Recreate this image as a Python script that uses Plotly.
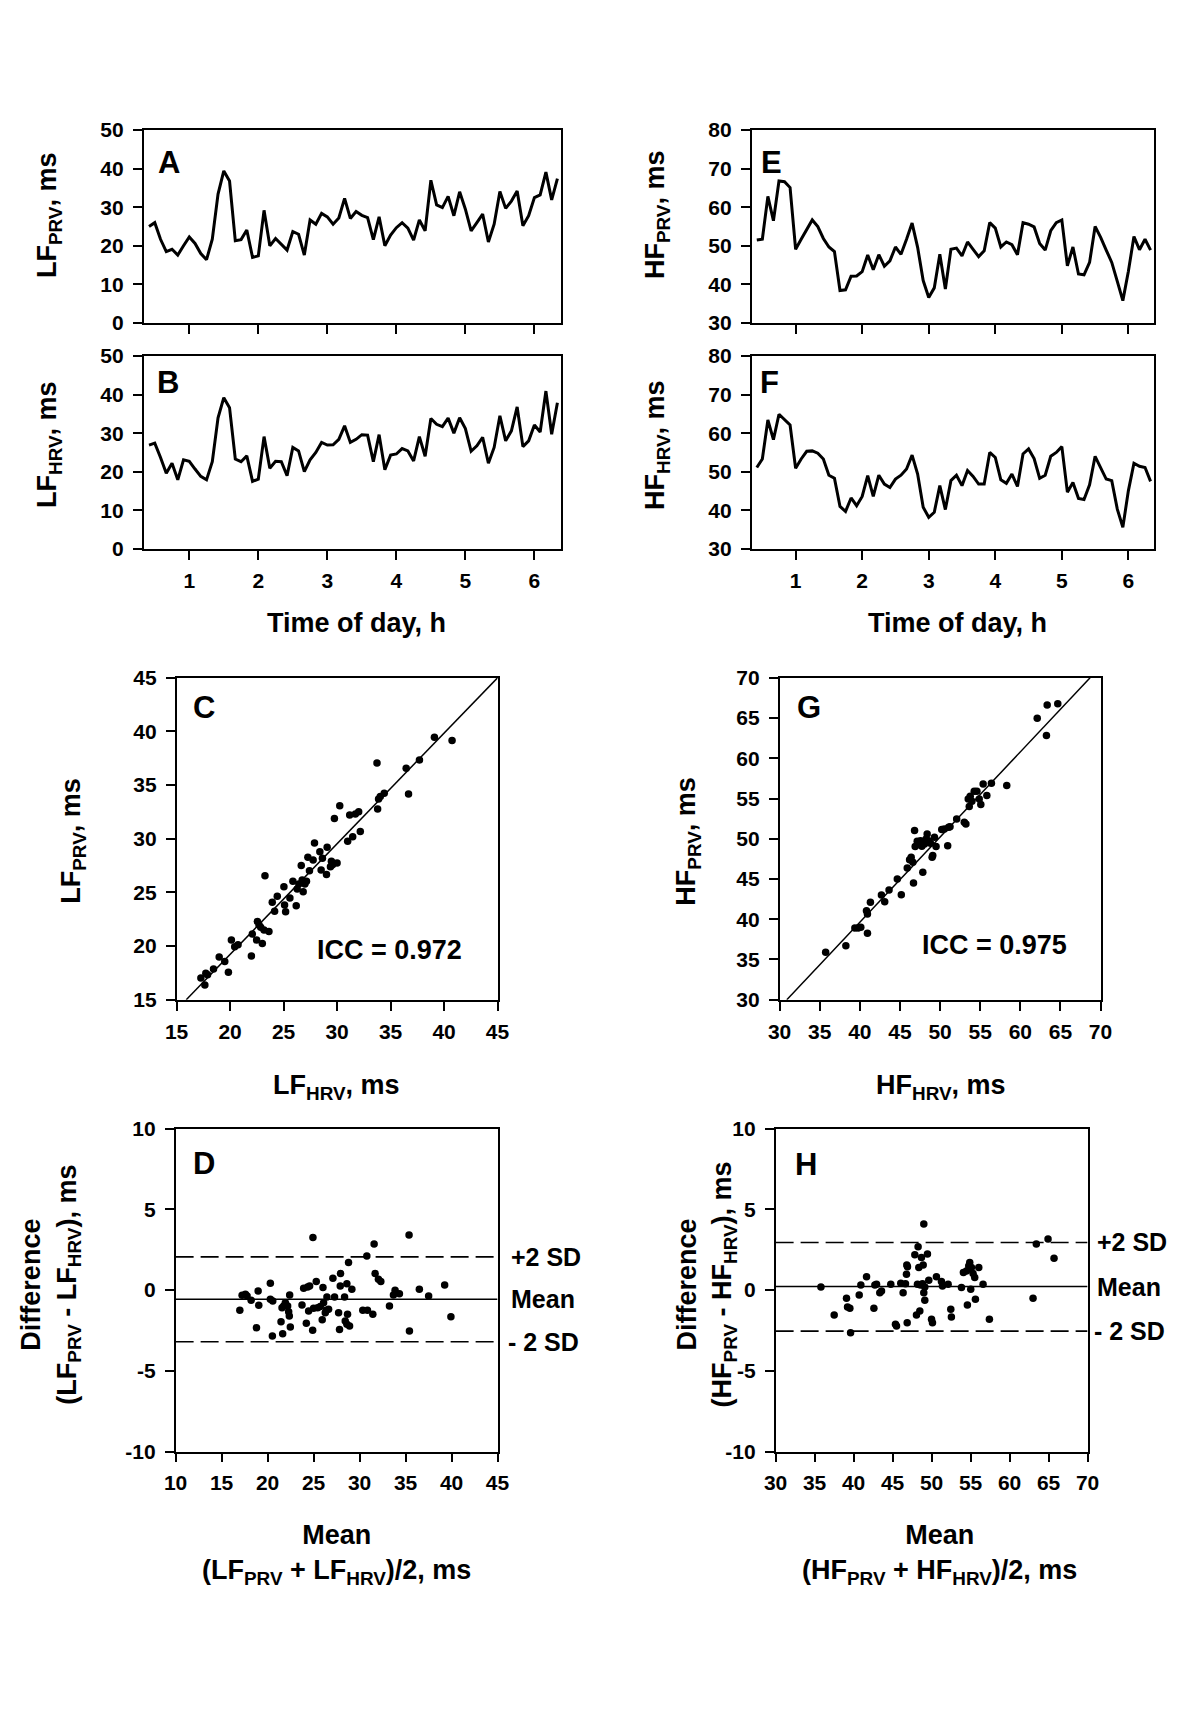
import plotly.graph_objects as go

W, H = 1200, 1734          # browser window
PAD = 8                    # default page body margin
FW, FH = W - 2 * PAD, H - 2 * PAD   # figure size that fits the window
FONT = "Liberation Sans, Arial, Helvetica, sans-serif"
# observed page -> photo mapping (photo = O + S * page), compensated below
SX, OX = 0.983, 11.0
SY, OY = 0.987, 11.0

# ---------------- data ----------------
time_min = list(range(25, 385, 5))          # sampling every 5 min
time_h = [m / 60 for m in time_min]

lf_prv = [25.0, 26.0, 21.7, 18.5, 19.1, 17.6, 20.0, 22.3, 20.6, 18.0,
          16.4, 21.7, 33.4, 39.4, 36.8, 21.3, 21.6, 24.1, 17.0, 17.4,
          29.2, 20.0, 21.9, 20.4, 18.9, 23.7, 23.0, 17.6, 26.7, 25.6,
          28.4, 27.5, 25.6, 27.2, 32.3, 27.1, 28.9, 27.9, 27.3, 21.6,
          27.5, 20.0, 22.8, 24.7, 26.0, 24.6, 21.5, 26.7, 23.9, 37.0,
          30.6, 29.9, 32.8, 27.8, 34.0, 29.5, 23.9, 26.0, 28.2, 21.0,
          25.6, 34.1, 29.7, 31.6, 34.2, 25.2, 27.8, 32.5, 33.2, 39.1,
          31.9, 37.4]
lf_hrv = [26.9, 27.4, 23.7, 19.6, 22.2, 17.9, 23.1, 22.7, 20.7, 18.8,
          17.9, 22.6, 34.0, 39.2, 36.6, 23.3, 22.6, 24.1, 17.5, 18.1,
          29.1, 20.9, 22.7, 22.6, 19.0, 26.3, 25.4, 20.0, 23.1, 25.0,
          27.6, 26.9, 27.0, 28.4, 31.9, 27.6, 28.4, 29.6, 29.5, 22.6,
          29.6, 20.5, 24.3, 24.6, 26.0, 25.4, 22.8, 29.1, 24.0, 33.8,
          32.3, 31.7, 33.9, 30.0, 34.0, 31.2, 25.3, 26.7, 28.9, 22.2,
          26.3, 34.5, 28.0, 30.6, 36.8, 26.5, 28.0, 32.1, 30.3, 40.9,
          29.7, 37.9]
hf_prv = [51.5, 51.7, 62.8, 56.5, 66.8, 66.6, 65.1, 49.1, 51.7, 54.3,
          56.7, 55.0, 51.9, 49.7, 48.5, 38.4, 38.6, 42.1, 42.2, 43.3,
          47.6, 43.8, 47.7, 44.7, 46.1, 49.7, 47.8, 51.7, 55.9, 49.6,
          41.0, 36.6, 39.1, 47.8, 38.8, 49.1, 49.4, 47.4, 51.0, 49.1,
          47.2, 48.7, 56.0, 54.6, 49.7, 51.0, 50.3, 47.7, 56.0, 55.6,
          54.9, 50.6, 48.9, 53.9, 56.0, 56.7, 44.8, 49.7, 42.7, 42.5,
          45.7, 55.0, 52.2, 48.9, 45.7, 40.8, 35.8, 43.4, 52.4, 49.0,
          51.7, 48.9]
hf_hrv = [51.1, 53.3, 63.4, 58.3, 64.9, 63.6, 62.1, 50.9, 53.3, 55.3,
          55.4, 54.8, 53.3, 49.1, 48.3, 41.0, 39.7, 43.2, 41.2, 43.6,
          49.0, 43.6, 49.1, 46.8, 45.9, 48.1, 49.1, 50.7, 54.3, 49.4,
          40.8, 38.2, 39.5, 46.4, 40.2, 47.7, 49.1, 46.4, 50.3, 48.8,
          46.8, 46.8, 55.0, 53.7, 47.9, 47.0, 49.4, 46.2, 54.6, 55.9,
          53.4, 48.3, 49.1, 54.0, 55.0, 56.5, 44.7, 47.2, 43.1, 42.8,
          46.6, 54.0, 51.1, 48.1, 47.7, 40.3, 35.6, 45.1, 52.2, 51.4,
          51.1, 47.5]

# Panel C: LF_HRV (x) vs LF_PRV (y)
c_x = [17.27, 17.64, 17.73, 17.89, 18.45, 18.98, 19.50, 19.84, 20.12, 20.43,
       20.74, 21.99, 22.08, 22.48, 22.55, 22.70, 22.86, 23.01, 23.17, 23.26,
       23.63, 23.94, 24.16, 24.41, 25.03, 25.09, 25.19, 25.59, 25.87, 26.18,
       26.27, 26.43, 26.65, 26.74, 26.83, 26.99, 27.14, 27.27, 27.42, 27.76,
       27.89, 28.39, 28.51, 28.63, 29.01, 29.07, 29.38, 29.47, 29.57, 29.75,
       30.00, 30.25, 30.99, 31.18, 31.46, 31.71, 32.02, 32.17, 33.73, 33.79,
       33.88, 34.04, 34.41, 36.46, 36.68, 37.70, 39.10, 40.75]
c_y = [17.02, 16.37, 17.46, 17.33, 17.86, 18.98, 18.57, 17.55, 20.56, 19.94,
       20.13, 19.08, 21.12, 20.56, 22.30, 21.99, 21.75, 20.25, 21.50, 26.56,
       21.37, 24.08, 23.24, 24.64, 25.54, 23.83, 23.21, 24.48, 26.04, 23.77,
       25.32, 25.79, 27.50, 26.16, 25.07, 25.79, 26.04, 28.27, 27.03, 28.02,
       29.61, 28.80, 27.09, 28.18, 26.66, 29.21, 27.40, 27.90, 27.59, 31.88,
       27.75, 33.09, 29.77, 32.22, 30.20, 32.31, 32.53, 30.67, 37.07, 32.78,
       33.71, 33.93, 34.24, 36.57, 34.18, 37.35, 39.46, 39.15]
c_fit_x = [15.9, 45.0]
c_fit_y = [15.0, 45.0]

# Panel G: HF_HRV (x) vs HF_PRV (y)
g_x = [35.74, 38.26, 39.38, 39.79, 40.12, 40.95, 40.83, 40.95, 41.32, 42.69,
       43.10, 43.64, 44.67, 45.17, 45.91, 46.20, 46.40, 46.61, 46.69, 46.82,
       46.90, 47.15, 47.36, 47.56, 47.73, 47.85, 48.06, 48.26, 48.39, 48.55,
       48.80, 49.01, 49.09, 49.30, 49.50, 50.21, 50.54, 50.95, 51.07, 51.24,
       52.07, 53.02, 53.22, 53.51, 53.64, 53.76, 53.97, 54.26, 54.59, 54.88,
       55.08, 55.37, 55.83, 56.40, 58.31, 62.11, 63.26, 63.35, 64.67]
g_y = [35.89, 36.72, 38.91, 38.91, 39.00, 38.25, 41.07, 40.65, 42.10, 43.02,
       42.19, 43.64, 45.01, 43.06, 46.37, 47.41, 47.70, 47.08, 44.51, 51.02,
       49.03, 49.69, 49.36, 49.77, 49.07, 45.83, 49.36, 49.98, 50.60, 49.77,
       49.44, 47.70, 47.91, 50.19, 49.03, 51.14, 51.22, 49.15, 51.43, 51.51,
       52.47, 52.05, 51.84, 54.95, 54.00, 55.28, 54.66, 55.91, 55.91, 54.95,
       54.25, 56.82, 55.37, 56.90, 56.61, 64.98, 62.83, 66.64, 66.77]
g_fit_x = [30.9, 68.7]
g_fit_y = [30.0, 70.0]

# Panel D: Bland-Altman LF
d_mean = [16.98, 17.23, 17.59, 17.77, 18.21, 18.79, 18.97, 19.04, 20.30, 20.30,
          20.52, 20.56, 21.46, 21.57, 21.64, 21.75, 21.93, 22.18, 22.29, 22.36,
          22.40, 22.47, 23.74, 23.92, 24.21, 24.35, 24.46, 24.57, 24.90, 24.93,
          25.00, 25.29, 25.44, 25.73, 25.94, 26.02, 26.09, 26.27, 26.38, 26.45,
          26.63, 27.10, 27.28, 27.72, 27.82, 27.90, 27.93, 28.37, 28.44, 28.62,
          28.62, 28.69, 28.80, 28.91, 29.16, 30.35, 30.79, 30.86, 31.44, 31.58,
          31.69, 32.05, 32.31, 33.25, 33.68, 33.86, 34.33, 35.38, 35.42, 36.50,
          37.51, 39.25, 39.93]
d_diff = [-1.25, -0.32, -0.26, -0.36, -0.63, -2.33, -0.05, -0.94, 0.42, -0.57,
          -2.85, -0.67, -1.96, -1.09, -2.70, -0.98, -0.78, -0.98, -1.34, -1.61,
          -0.30, -2.29, -0.92, 0.11, -2.06, 0.20, -1.30, 0.26, -2.48, 3.26,
          -1.13, 0.53, -1.09, -1.01, -1.83, 0.16, -0.78, -1.40, -1.25, -0.42,
          -1.19, 0.74, -0.42, -1.40, -2.44, 0.26, 1.03, -0.42, -1.92, -2.12,
          0.40, -1.50, 1.71, -2.23, 0.05, -1.25, 2.12, -1.25, -1.50, 2.85,
          1.03, 0.67, 0.53, -0.98, -0.30, -0.01, -0.22, 3.41, -2.54, 0.05,
          -0.36, 0.32, -1.65]
d_limits = [2.06, -0.57, -3.20]        # +2 SD, mean, -2 SD
d_xspan = [10, 45]

# Panel H: Bland-Altman HF
h_mean = [35.81, 37.51, 39.09, 39.22, 39.52, 39.61, 40.72, 40.93, 41.66, 42.60,
          42.73, 42.94, 43.36, 43.58, 44.77, 45.37, 45.50, 46.05, 46.35, 46.65,
          46.78, 46.82, 46.87, 46.91, 47.85, 48.06, 48.19, 48.27, 48.36, 48.49,
          48.57, 48.70, 48.83, 48.92, 49.00, 49.00, 49.13, 49.13, 49.47, 49.64,
          49.99, 50.11, 50.62, 51.26, 51.39, 52.12, 52.46, 52.54, 53.83, 54.08,
          54.47, 54.59, 54.76, 54.89, 55.02, 55.11, 55.32, 55.53, 55.62, 56.05,
          56.60, 57.41, 63.01, 63.43, 64.93, 65.70]
h_diff = [0.20, -1.54, -0.51, -1.05, -1.13, -2.64, -0.30, 0.32, 0.82, -1.13,
          0.32, 0.36, -0.16, -0.05, 0.36, -2.12, -2.23, 0.42, -0.16, 0.40,
          0.98, 1.56, -2.02, 1.44, 2.19, -1.54, 0.36, 2.68, 1.40, -1.30,
          0.32, 2.02, 0.40, 1.56, -0.16, 4.09, -0.63, 0.20, 2.23, 0.61,
          -1.81, -2.02, 0.82, 0.53, 0.26, 0.36, -1.19, -1.67, 0.16, 1.09,
          1.19, -0.92, 1.50, 1.71, 0.05, 1.40, 1.03, 0.78, -0.57, 1.40,
          0.36, -1.81, -0.51, 2.85, 3.16, 1.98]
h_limits = [2.95, 0.22, -2.54]
h_xspan = [30, 70]

limit_labels = ["+2 SD", "Mean", "- 2 SD"]
diff_ticks = [-10, -5, 0, 5, 10]
diff_ticktext = ["-10", "-5", "0", "5", "10"]

# ---------------- layout helpers ----------------
def fx(px):
    page = (px - OX) / SX
    return (page - PAD) / FW

def fy(py):
    page = (py - OY) / SY
    return 1 - (page - PAD) / FH

TICKFONT = dict(family=FONT, size=21, color="black", weight="bold")

def axis_style(**kw):
    d = dict(showline=True, linecolor="black", linewidth=1.6, mirror=True,
             ticks="outside", ticklen=9, tickwidth=1.6, tickcolor="black",
             showgrid=False, zeroline=False, tickfont=TICKFONT,
             fixedrange=True)
    d.update(kw)
    return d

# panel boxes in target pixels: left, right, top, bottom
boxes = {
    "A": (143, 562, 129, 322),
    "B": (143, 562, 355, 548),
    "E": (753, 1157, 129, 322),
    "F": (753, 1157, 355, 548),
    "C": (176, 498, 677, 999),
    "G": (781, 1103, 677, 999),
    "D": (175, 498, 1128, 1451),
    "H": (777, 1090, 1128, 1451),
}
order = ["A", "B", "E", "F", "C", "G", "D", "H"]
axis_id = {k: i + 1 for i, k in enumerate(order)}

fig = go.Figure()
layout = dict(width=FW, height=FH, autosize=False,
              margin=dict(l=0, r=0, t=0, b=0, pad=0),
              paper_bgcolor="white", plot_bgcolor="white", showlegend=False,
              font=dict(family=FONT, color="black", size=21, weight="bold"))

def ax_names(k):
    i = axis_id[k]
    s = "" if i == 1 else str(i)
    return "x" + s, "y" + s, "xaxis" + s, "yaxis" + s

time_range = [0.34, 6.39]
hours = [1, 2, 3, 4, 5, 6]
axis_cfg = {
    "A": (dict(range=time_range, tickvals=hours, showticklabels=False),
          dict(range=[0, 50], dtick=10)),
    "B": (dict(range=time_range, tickvals=hours, ticklabelstandoff=3),
          dict(range=[0, 50], dtick=10)),
    "E": (dict(range=time_range, tickvals=hours, showticklabels=False),
          dict(range=[30, 80], dtick=10)),
    "F": (dict(range=time_range, tickvals=hours, ticklabelstandoff=3),
          dict(range=[30, 80], dtick=10)),
    "C": (dict(range=[15, 45], dtick=5, ticklabelstandoff=3),
          dict(range=[15, 45], dtick=5)),
    "G": (dict(range=[30, 70], dtick=5, ticklabelstandoff=3),
          dict(range=[30, 70], dtick=5)),
    "D": (dict(range=[10, 45], dtick=5, ticklabelstandoff=2),
          dict(range=[-10, 10], tickvals=diff_ticks, ticktext=diff_ticktext)),
    "H": (dict(range=[30, 70], dtick=5, ticklabelstandoff=2),
          dict(range=[-10, 10], tickvals=diff_ticks, ticktext=diff_ticktext)),
}

for k in order:
    xr, yr, xa, ya = ax_names(k)
    l, r, t, b = boxes[k]
    xc, yc = axis_cfg[k]
    layout[xa] = axis_style(domain=[fx(l), fx(r)], anchor=yr, **xc)
    layout[ya] = axis_style(domain=[fy(b), fy(t)], anchor=xr,
                            ticklabelstandoff=5, **yc)

def add_line(k, x, y, width=3.0, dash=None):
    xr, yr, _, _ = ax_names(k)
    fig.add_trace(go.Scatter(x=x, y=y, xaxis=xr, yaxis=yr, mode="lines",
                             line=dict(color="black", width=width, dash=dash),
                             hoverinfo="skip"))

def add_dots(k, x, y):
    xr, yr, _, _ = ax_names(k)
    fig.add_trace(go.Scatter(x=x, y=y, xaxis=xr, yaxis=yr, mode="markers",
                             marker=dict(color="black", size=7.5, line=dict(width=0))))

# time series
add_line("A", time_h, lf_prv)
add_line("B", time_h, lf_hrv)
add_line("E", time_h, hf_prv)
add_line("F", time_h, hf_hrv)

# agreement scatter
add_line("C", c_fit_x, c_fit_y, width=1.5)
add_dots("C", c_x, c_y)
add_line("G", g_fit_x, g_fit_y, width=1.5)
add_dots("G", g_x, g_y)

# Bland-Altman
for k, lims, span, mx, dy in (("D", d_limits, d_xspan, d_mean, d_diff),
                              ("H", h_limits, h_xspan, h_mean, h_diff)):
    add_line(k, span, [lims[0]] * 2, width=1.6, dash="18px,7px")
    add_line(k, span, [lims[1]] * 2, width=1.6)
    add_line(k, span, [lims[2]] * 2, width=1.6, dash="18px,7px")
    add_dots(k, mx, dy)

# ---------------- annotations ----------------
ann = []
TITLE = 27

def text(s, x, y, size=TITLE, angle=0, xanchor="center", yanchor="middle",
         yref="paper", yval=None):
    ann.append(dict(text=s, x=fx(x), y=(fy(y) if yval is None else yval),
                    xref="paper", yref=yref, showarrow=False, textangle=angle,
                    xanchor=xanchor, yanchor=yanchor,
                    font=dict(family=FONT, size=size, color="black", weight="bold")))

# panel letters
for k, (x, y) in {"A": (155, 161), "B": (154, 382), "E": (760, 161), "F": (759, 382),
                  "C": (190, 707), "G": (796, 707), "D": (190, 1163),
                  "H": (794, 1164)}.items():
    text(k, x, y, size=31, xanchor="left")

# y titles of time series
text("LF<sub>PRV</sub>, ms", 48, 214, angle=-90)
text("LF<sub>HRV</sub>, ms", 48, 444, angle=-90)
text("HF<sub>PRV</sub>, ms", 658, 214, angle=-90)
text("HF<sub>HRV</sub>, ms", 658, 444, angle=-90)
text("Time of day, h", 356, 622)
text("Time of day, h", 959, 622)

# C / G
text("LF<sub>PRV</sub>, ms", 72, 840, angle=-90)
text("LF<sub>HRV</sub>, ms", 336, 1086)
text("HF<sub>PRV</sub>, ms", 689, 840, angle=-90)
text("HF<sub>HRV</sub>, ms", 943, 1086)
text("ICC = 0.972", 315, 949, size=27, xanchor="left")
text("ICC = 0.975", 922, 944, size=27, xanchor="left")

# D / H
text("Difference<br>(LF<sub>PRV</sub> - LF<sub>HRV</sub>), ms", 50, 1284, angle=-90)
text("Mean<br>(LF<sub>PRV</sub> + LF<sub>HRV</sub>)/2, ms", 336, 1554)
text("Difference<br>(HF<sub>PRV</sub> - HF<sub>HRV</sub>), ms", 708, 1284, angle=-90)
text("Mean<br>(HF<sub>PRV</sub> + HF<sub>HRV</sub>)/2, ms", 941, 1554)

for k, lims, xl in (("D", d_limits, 509), ("H", h_limits, 1097)):
    _, yr, _, _ = ax_names(k)
    for lab, v in zip(limit_labels, lims):
        text(lab, xl if lab != "- 2 SD" else xl - 3, 0, size=25, xanchor="left",
             yref=yr, yval=v)

layout["annotations"] = ann
fig.update_layout(**layout)
fig.write_html("out.html")
